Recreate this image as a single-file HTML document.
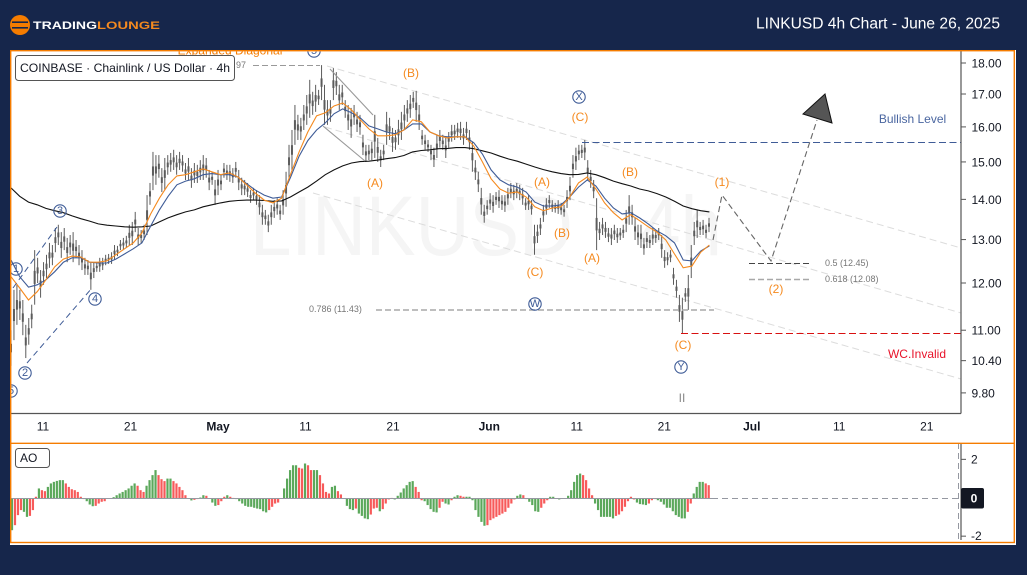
<!DOCTYPE html>
<html lang="en">
<head>
<meta charset="utf-8">
<title>LINKUSD 4h Chart</title>
<style>
html,body{margin:0;padding:0;background:#16264b;width:1027px;height:575px;overflow:hidden}
svg{display:block;font-family:"Liberation Sans",Arial,sans-serif}
.o{fill:#f58a1f;font-size:12px;text-anchor:middle;dominant-baseline:central}
.c{fill:#3f5c97;font-size:11px;text-anchor:middle;dominant-baseline:central}
.cr{fill:none;stroke:#3f5c97;stroke-width:1.1}
.fib{fill:#777;font-size:9px;dominant-baseline:central}
.ax{fill:#131722;font-size:12px;dominant-baseline:central}
</style>
</head>
<body>
<svg id="chart" width="1027" height="575" viewBox="0 0 1027 575" xmlns="http://www.w3.org/2000/svg">
  <defs>
    <clipPath id="plotClip"><rect x="11" y="51.5" width="950" height="362"></rect></clipPath>
  </defs>
  <rect x="0" y="0" width="1027" height="575" fill="#16264b"></rect>

  <g>
    <circle cx="20" cy="25" r="10" fill="#f57c00"></circle>
    <rect x="12" y="21.4" width="16" height="1.6" fill="#16264b"></rect>
    <rect x="12" y="27" width="16" height="1.6" fill="#16264b"></rect>
    <text x="33" y="29" font-size="11" font-weight="700" fill="#ffffff" textLength="64" lengthAdjust="spacingAndGlyphs">TRADING</text>
    <text x="97" y="29" font-size="11" font-weight="700" fill="#f58a1f" textLength="63" lengthAdjust="spacingAndGlyphs">LOUNGE</text>
  </g>
  <text x="1000" y="24" font-size="15.5" fill="#ffffff" text-anchor="end" dominant-baseline="central" textLength="244" lengthAdjust="spacingAndGlyphs">LINKUSD 4h Chart - June 26, 2025</text>

  <rect x="10" y="50" width="1006" height="495" fill="#ffffff"></rect>

  <text x="250" y="255" font-size="84" fill="#f5f5f5" textLength="472" lengthAdjust="spacingAndGlyphs">LINKUSD · 4h</text>

  <g clip-path="url(#plotClip)">
    <g stroke="#dcdcdc" stroke-width="1" stroke-dasharray="7 4" fill="none">
      <line x1="327" y1="66" x2="961" y2="248"></line>
      <line x1="325" y1="127" x2="961" y2="313"></line>
      <line x1="313" y1="193" x2="961" y2="379"></line>
    </g>
    <g id="candles"></g>
    <path id="maBlack" fill="none" stroke="#111111" stroke-width="1.1"></path>
    <path id="maBlue" fill="none" stroke="#3f5c97" stroke-width="1.1"></path>
    <path id="maOrange" fill="none" stroke="#f58a1f" stroke-width="1.1"></path>

    <g stroke="#999999" stroke-width="1.1" fill="none">
      <line x1="330" y1="69" x2="373" y2="115"></line>
      <line x1="323" y1="126" x2="365" y2="161"></line>
    </g>
    <g stroke="#3f5c97" stroke-width="1" stroke-dasharray="6 4" fill="none">
      <line x1="13" y1="288" x2="57" y2="227"></line>
      <line x1="27" y1="363" x2="92" y2="288"></line>
    </g>

    <line x1="253" y1="65.500" x2="320" y2="65.500" stroke="#999999" stroke-width="1" stroke-dasharray="6 3"></line>
    <line x1="582" y1="142.500" x2="961" y2="142.500" stroke="#3f5c97" stroke-width="1" stroke-dasharray="7 3.5"></line>
    <line x1="681" y1="333.500" x2="961" y2="333.500" stroke="#d81010" stroke-width="1" stroke-dasharray="7 3.5"></line>
    <line x1="376" y1="310" x2="714" y2="310" stroke="#a8a8a8" stroke-width="1.5" stroke-dasharray="6 3"></line>
    <line x1="749" y1="263.500" x2="810" y2="263.500" stroke="#444444" stroke-width="1" stroke-dasharray="6 3"></line>
    <line x1="749" y1="279.500" x2="810" y2="279.500" stroke="#a8a8a8" stroke-width="1.5" stroke-dasharray="6 3"></line>

    <polyline points="713,240 722,195 771,261 817,120" fill="none" stroke="#666666" stroke-width="1.1" stroke-dasharray="6 3.5"></polyline>
    <polygon points="825,94 803,114 832,123" fill="#555555" stroke="#111111" stroke-width="1"></polygon>

    <text x="230" y="50.500" font-size="12" fill="#f57c00" text-anchor="middle" dominant-baseline="central">Expanded Diagonal</text>
    <text x="236" y="65" font-size="9" fill="#777777" dominant-baseline="central">97</text>
    <text class="fib" x="309" y="309">0.786 (11.43)</text>
    <text class="fib" x="825" y="263">0.5 (12.45)</text>
    <text class="fib" x="825" y="279">0.618 (12.08)</text>
    <text x="912.500" y="119" font-size="12" fill="#4a66a0" text-anchor="middle" dominant-baseline="central">Bullish Level</text>
    <text x="917" y="354" font-size="12" fill="#e8132a" text-anchor="middle" dominant-baseline="central">WC.Invalid</text>
    <text x="682" y="398" font-size="12" fill="#888888" text-anchor="middle" dominant-baseline="central">II</text>

    <g>
      <text class="o" x="411" y="73">(B)</text>
      <text class="o" x="375" y="183">(A)</text>
      <text class="o" x="580" y="117">(C)</text>
      <text class="o" x="542" y="182">(A)</text>
      <text class="o" x="562" y="233">(B)</text>
      <text class="o" x="535" y="272">(C)</text>
      <text class="o" x="592" y="258">(A)</text>
      <text class="o" x="630" y="172">(B)</text>
      <text class="o" x="683" y="345">(C)</text>
      <text class="o" x="722" y="182">(1)</text>
      <text class="o" x="776" y="289">(2)</text>
    </g>
    <g>
      <g><circle class="cr" cx="314" cy="51" r="6.2"></circle><text class="c" x="314" y="51">5</text></g>
      <g><circle class="cr" cx="60" cy="211" r="6.2"></circle><text class="c" x="60" y="211">3</text></g>
      <g><circle class="cr" cx="16" cy="269" r="6.2"></circle><text class="c" x="16" y="269">1</text></g>
      <g><circle class="cr" cx="25" cy="373" r="6.2"></circle><text class="c" x="25" y="373">2</text></g>
      <g><circle class="cr" cx="95" cy="299" r="6.2"></circle><text class="c" x="95" y="299">4</text></g>
      <g><circle class="cr" cx="11" cy="391" r="6.2"></circle><text class="c" x="11" y="391">5</text></g>
      <g><circle class="cr" cx="579" cy="97" r="6.2"></circle><text class="c" x="579" y="97">X</text></g>
      <g><circle class="cr" cx="535" cy="304" r="6.2"></circle><text class="c" x="535" y="304" font-size="9">W</text></g>
      <g><circle class="cr" cx="681" cy="367" r="6.2"></circle><text class="c" x="681" y="367">Y</text></g>
    </g>
  </g>

  <g>
    <rect x="15.500" y="55.500" width="219" height="25" rx="3" fill="#ffffff" stroke="#555555" stroke-width="1"></rect>
    <text x="20" y="68" font-size="12" fill="#131722" dominant-baseline="central" textLength="210" lengthAdjust="spacingAndGlyphs">COINBASE · Chainlink / US Dollar · 4h</text>
  </g>

  <g stroke="#555555" stroke-width="1.2" fill="none">
    <line x1="961" y1="50" x2="961" y2="413.500"></line>
    <line x1="11" y1="413.500" x2="961" y2="413.500"></line>
    <line x1="961" y1="443" x2="961" y2="540"></line>
  </g>
  <g id="priceTicksG"></g>
  <g id="timeTicksG"></g>

  <g id="aoBars"></g>
  <line x1="11" y1="498.500" x2="712" y2="498.500" stroke="#9598a1" stroke-width="1"></line>
  <line x1="712" y1="498.500" x2="958" y2="498.500" stroke="#9598a1" stroke-width="1" stroke-dasharray="6 4"></line>
  <line x1="958.500" y1="443" x2="958.500" y2="540" stroke="#9598a1" stroke-width="1" stroke-dasharray="6 4"></line>
  <g>
    <rect x="15.500" y="448.500" width="34" height="19" rx="3" fill="#ffffff" stroke="#555555" stroke-width="1"></rect>
    <text x="20" y="458" font-size="12" fill="#131722" dominant-baseline="central">AO</text>
  </g>
  <g id="aoTicksG"></g>
  <rect x="961" y="488" width="23" height="20.500" rx="2" fill="#131722"></rect>
  <text x="974" y="498.500" font-size="12" font-weight="700" fill="#ffffff" text-anchor="middle" dominant-baseline="central">0</text>

  <g fill="none" stroke="#f57c00" stroke-width="1.4">
    <rect x="10.700" y="50.700" width="1003.600" height="491.800"></rect>
    <line x1="10.700" y1="443.300" x2="1014.300" y2="443.300"></line>
  </g>
</svg>

<script>
const highs = [11.00,11.85,11.96,11.85,11.63,11.11,11.25,11.53,12.75,12.57,12.29,12.47,12.64,12.92,12.87,13.28,13.36,13.18,13.28,13.04,13.11,13.18,12.99,12.87,12.75,12.57,12.52,12.47,12.47,12.47,12.57,12.57,12.64,12.66,12.70,12.87,12.85,12.99,13.04,13.09,13.36,13.43,13.68,13.28,13.23,13.36,14.11,14.43,15.28,15.19,15.19,14.83,15.11,15.19,15.25,15.34,15.19,15.28,15.19,14.97,15.11,14.83,14.97,14.92,15.05,15.19,15.11,14.78,14.73,14.51,14.78,14.65,14.97,14.92,14.92,14.83,15.00,14.78,14.57,14.51,14.43,14.24,14.30,14.24,14.11,13.86,13.73,13.61,13.86,13.98,14.03,13.86,14.24,14.73,15.48,15.91,16.66,16.36,16.27,16.66,16.97,17.45,17.07,17.29,17.13,17.93,17.29,16.81,16.81,17.83,17.70,17.29,17.29,16.81,16.66,16.57,16.66,16.45,16.36,15.77,15.48,15.48,15.57,16.36,15.68,15.34,15.48,16.45,16.27,15.97,15.91,16.21,16.45,16.66,16.81,16.97,17.07,17.10,16.66,15.91,15.77,15.62,15.48,15.40,15.77,15.91,15.77,15.68,15.85,16.06,16.06,16.12,16.15,15.97,16.15,15.91,15.57,15.05,14.73,14.30,13.86,13.98,14.16,14.11,14.19,14.24,14.11,14.11,14.30,14.43,14.38,14.43,14.38,14.30,14.03,14.11,13.98,13.36,13.36,13.53,13.86,14.03,14.11,13.98,13.91,13.98,13.91,13.86,14.24,14.59,15.19,15.40,15.48,15.48,15.62,15.05,14.78,14.51,14.03,13.43,13.53,13.43,13.28,13.28,13.36,13.28,13.28,13.36,13.73,14.11,13.86,13.53,13.36,13.36,13.04,13.18,13.11,13.28,13.23,13.28,13.11,12.75,12.70,12.75,12.34,12.07,11.74,11.68,11.89,12.18,12.87,13.43,13.73,13.43,13.48,13.36,13.53];
const lows = [10.30,10.80,11.11,11.21,10.90,10.45,10.71,11.04,11.53,12.00,11.68,11.96,12.11,12.34,12.40,12.70,12.87,12.57,12.75,12.47,12.64,12.47,12.57,12.40,12.29,12.18,12.18,11.85,12.11,12.25,12.25,12.29,12.40,12.43,12.43,12.52,12.61,12.75,12.75,12.80,12.85,12.87,13.18,12.87,12.92,12.99,13.11,13.86,14.24,14.38,14.57,14.19,14.24,14.65,14.73,14.78,14.65,14.78,14.73,14.51,14.51,14.30,14.43,14.43,14.51,14.51,14.57,14.24,14.38,13.86,14.11,14.24,14.57,14.51,14.46,14.43,14.57,14.24,14.11,14.11,14.06,13.91,13.98,13.86,13.61,13.36,13.36,13.18,13.36,13.53,13.61,13.48,13.61,13.81,14.57,14.78,15.48,15.62,15.62,15.91,16.06,16.27,16.36,16.45,16.66,16.81,16.06,16.06,16.15,16.81,16.97,16.51,16.66,16.27,15.91,15.68,16.06,15.85,15.77,15.19,15.00,15.05,15.05,15.11,15.00,14.86,15.05,15.48,15.62,15.28,15.34,15.48,15.62,15.91,16.15,16.27,16.57,16.15,15.91,15.48,15.34,15.28,15.05,14.86,15.11,15.40,15.34,15.11,15.40,15.57,15.62,15.68,15.62,15.48,15.62,15.34,14.73,14.51,14.19,13.61,13.41,13.61,13.73,13.66,13.86,13.78,13.73,13.68,13.86,14.03,13.98,14.03,13.98,13.86,13.73,13.73,13.61,12.64,12.92,13.11,13.43,13.61,13.78,13.68,13.66,13.63,13.61,13.56,13.78,13.98,14.57,14.78,15.05,15.11,15.05,14.51,14.30,14.03,12.75,12.99,13.11,13.04,12.94,12.87,12.99,12.92,12.99,13.04,13.18,13.36,13.36,12.99,12.87,12.80,12.64,12.80,12.80,12.87,12.92,12.99,12.57,12.34,12.40,12.47,11.96,11.68,11.17,10.94,11.59,11.42,12.11,12.87,13.04,13.11,13.11,13.04,13.18];
const maLong = [14.30,14.08,13.93,13.86,13.77,13.71,13.66,13.58,13.51,13.45,13.38,13.35,13.33,13.31,13.30,13.31,13.33,13.43,13.53,13.61,13.68,13.73,13.81,13.86,13.91,13.95,13.97,13.98,13.98,13.97,13.95,13.96,14.06,14.19,14.32,14.48,14.65,14.78,14.89,14.97,15.01,15.02,15.05,15.09,15.12,15.18,15.28,15.32,15.34,15.37,15.38,15.40,15.40,15.37,15.31,15.25,15.16,15.08,15.02,14.94,14.86,14.79,14.73,14.68,14.65,14.66,14.70,14.65,14.57,14.48,14.41,14.35,14.27,14.22,14.15,14.06,13.95,13.83,13.76,13.71,13.68];
const maFast = [12.14,11.89,11.63,11.81,12.07,12.36,12.54,12.61,12.59,12.47,12.47,12.50,12.64,12.78,12.92,13.16,13.63,14.03,14.38,14.62,14.65,14.73,14.81,14.73,14.65,14.70,14.59,14.38,14.16,13.98,13.91,14.03,14.65,15.28,15.85,16.33,16.42,16.63,16.72,16.51,16.21,15.94,15.74,15.74,15.77,15.91,16.21,16.15,15.85,15.74,15.68,15.71,15.71,15.45,15.00,14.54,14.27,14.16,14.19,14.06,13.81,13.71,13.78,13.81,14.06,14.43,14.59,14.27,13.91,13.66,13.48,13.61,13.46,13.31,13.18,12.99,12.66,12.34,12.38,12.70,12.87];
const maSlow = [12.52,12.14,11.91,11.96,12.07,12.25,12.47,12.57,12.57,12.47,12.45,12.45,12.54,12.66,12.78,12.92,13.33,13.73,14.08,14.38,14.48,14.54,14.65,14.68,14.65,14.65,14.59,14.41,14.24,14.11,14.03,14.06,14.57,15.16,15.60,15.91,16.12,16.39,16.54,16.42,16.27,16.03,15.94,15.85,15.80,15.91,16.09,16.09,15.85,15.74,15.71,15.71,15.71,15.54,15.22,14.78,14.51,14.38,14.32,14.19,13.93,13.83,13.83,13.86,14.06,14.32,14.51,14.35,14.03,13.78,13.63,13.66,13.53,13.38,13.21,13.09,12.92,12.52,12.50,12.73,12.85];
const aoValues = [-1.64,-1.38,-.86,-.60,-.69,-.95,-.90,-.60,.09,.52,.43,.38,.60,.78,.86,.91,.95,.95,.78,.60,.48,.43,.34,.09,-.03,-.14,-.31,-.40,-.38,-.26,-.17,-.14,-.02,0,.07,.17,.26,.34,.43,.52,.66,.78,.66,.43,.34,.66,.95,1.21,1.47,1.21,1.00,.90,1.03,1.03,.90,.78,.60,.43,.17,0,-.10,-.07,-.03,.05,.17,.14,0,-.21,-.38,-.34,-.14,.09,.17,.09,.03,-.03,-.14,-.26,-.38,-.43,-.43,-.48,-.52,-.55,-.66,-.72,-.60,-.43,-.26,-.21,0,.52,1.03,1.47,1.72,1.72,1.59,1.55,1.81,1.72,1.47,1.47,1.47,1.21,.78,.34,.26,.60,.66,.38,.21,0,-.38,-.55,-.60,-.52,-.78,
-.90,-1.03,-1.07,-.83,-.52,-.48,-.66,-.55,-.26,-.05,.03,-.05,.14,.31,.52,.69,.86,.90,.60,.34,-.09,-.14,-.34,-.55,-.69,-.72,-.48,-.17,-.26,-.31,-.09,.09,.17,.14,.09,.09,.09,-.09,-.60,-.95,-1.21,-1.41,-1.38,-1.12,-1.03,-.95,-.86,-.78,-.69,-.48,-.26,-.05,.14,.21,.17,-.03,-.17,-.34,-.66,-.69,-.48,-.26,-.09,.09,.09,0,-.05,-.02,0,.14,.43,.86,1.21,1.29,1.21,.95,.52,.17,-.26,-.60,-.95,-.95,-.95,-.95,-1.03,-.90,-.83,-.66,-.43,-.14,.09,-.05,-.21,-.29,-.31,-.34,-.26,-.09,-.03,-.09,-.17,-.31,-.48,-.48,-.66,-.86,-.95,-1.03,-1.03,-.69,-.26,.26,.60,.86,.86,.78,.69];
const priceTickValues = [18,17,16,15,14,13,12,11,10.4,9.8];
const priceTickLabels = ['18.00','17.00','16.00','15.00','14.00','13.00','12.00','11.00','10.40','9.80'];
const timeTickDays = [0,10,20,30,40,51,61,71,81,91,101];
const timeTickLabels = ['11','21','May','11','21','Jun','11','21','Jul','11','21'];
const aoTickValues = [2,-2];
const aoTickLabels = ['2','-2'];

const SVG_NS = 'http://www.w3.org/2000/svg';
function priceY(p){ return 63 + 542.6 * Math.log(18 / p); }
function barX(i, n){ return 11 + i * 698 / (n - 1); }
function maX(i, n){ return 11 + i * 698.4 / (n - 1); }
function dayX(d){ return 43 + 8.75 * d; }
function aoX(i, n){ return 12 + i * 696.7 / (n - 1); }
function aoY(v){ return 498.5 - v * 19.33; }
function make(tag, attrs){
  const el = document.createElementNS(SVG_NS, tag);
  for (const k in attrs) el.setAttribute(k, attrs[k]);
  return el;
}

const candles = document.getElementById('candles');
highs.forEach(function(h, i){
  const l = lows[i];
  const x = barX(i, highs.length);
  const yh = priceY(h), yl = priceY(l);
  const wick = make('line', {x1:x, x2:x, y1:yh, y2:yl, stroke:'#5c5c5c', 'stroke-width':1});
  
  
  candles.appendChild(wick);
  const body = make('rect', {x:x-1, y:yh+(yl-yh)*0.38, width:2, height:(yl-yh)*0.24, fill:'#5c5c5c'});
  
  
  candles.appendChild(body);
});

function linePath(values){
  return values.map(function(v, i){
    return (i ? 'L' : 'M') + maX(i, values.length).toFixed(1) + ' ' + priceY(v).toFixed(1);
  }).join(' ');
}
document.getElementById('maBlack').setAttribute('d', linePath(maLong));
document.getElementById('maBlue').setAttribute('d', linePath(maSlow));
document.getElementById('maOrange').setAttribute('d', linePath(maFast));

const priceTicksG = document.getElementById('priceTicksG');
priceTickValues.forEach(function(v, i){
  const y = priceY(v);
  const tick = make('line', {x1:961, x2:966, y1:y, y2:y, stroke:'#555555', 'stroke-width':1});
  
  
  priceTicksG.appendChild(tick);
  const label = make('text', {x:971.5, y:y+0.5, class:'ax'});
  
  
  label.textContent = priceTickLabels[i];
  priceTicksG.appendChild(label);
});

const timeTicksG = document.getElementById('timeTicksG');
timeTickDays.forEach(function(d, i){
  const isMonth = /[A-Za-z]/.test(timeTickLabels[i]);
  const label = make('text', {x:dayX(d), y:426.5, class:'ax', 'text-anchor':'middle', 'font-weight': isMonth ? '700' : '400'});
  
  
  label.textContent = timeTickLabels[i];
  timeTicksG.appendChild(label);
});

const aoBars = document.getElementById('aoBars');
aoValues.forEach(function(v, i){
  const prev = i ? aoValues[i-1] : 0;
  const growing = Math.abs(v) >= Math.abs(prev);
  const y0 = aoY(0), y1 = aoY(v);
  const bar = make('rect', {x:aoX(i, aoValues.length)-1.1, y:Math.min(y0,y1), width:2.2, height:Math.abs(y1-y0), fill: growing ? '#5ba85b' : '#f75a5a'});
  
  
  aoBars.appendChild(bar);
});

const aoTicksG = document.getElementById('aoTicksG');
aoTickValues.forEach(function(v, i){
  const y = aoY(v) + (v < 0 ? -1 : -0.5);
  const tick = make('line', {x1:961, x2:966, y1:y, y2:y, stroke:'#555555', 'stroke-width':1});
  
  
  aoTicksG.appendChild(tick);
  const label = make('text', {x:971, y:y, class:'ax'});
  
  
  label.textContent = aoTickLabels[i];
  aoTicksG.appendChild(label);
});
</script>
</body>
</html>
